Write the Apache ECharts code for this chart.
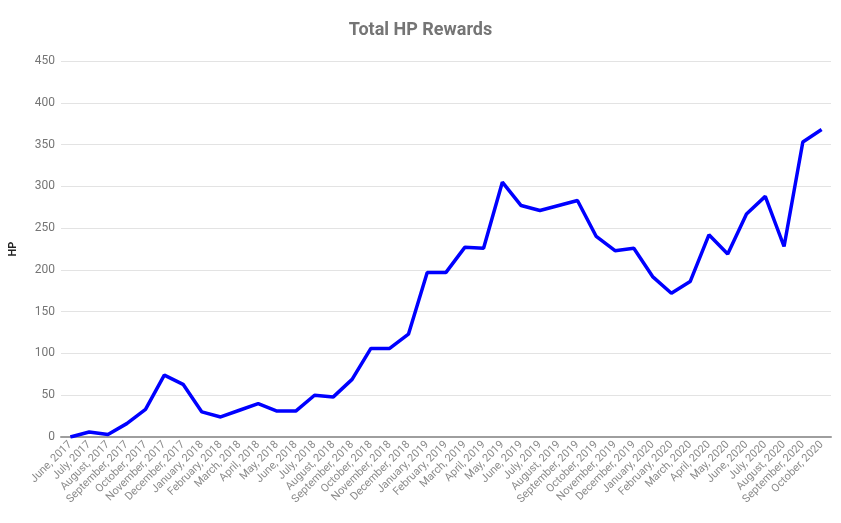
<!DOCTYPE html>
<html>
<head>
<meta charset="utf-8">
<script src="https://cdn.jsdelivr.net/npm/echarts@6/dist/echarts.min.js"></script>
<style>html,body{margin:0;padding:0;background:#fff}#c{width:841px;height:523px}</style>
</head>
<body>
<div id="c"></div>
<script>
const categories = [
"June, 2017","July, 2017","August, 2017","September, 2017","October, 2017","November, 2017","December, 2017",
"January, 2018","February, 2018","March, 2018","April, 2018","May, 2018","June, 2018","July, 2018","August, 2018","September, 2018","October, 2018","November, 2018","December, 2018",
"January, 2019","February, 2019","March, 2019","April, 2019","May, 2019","June, 2019","July, 2019","August, 2019","September, 2019","October, 2019","November, 2019","December, 2019",
"January, 2020","February, 2020","March, 2020","April, 2020","May, 2020","June, 2020","July, 2020","August, 2020","September, 2020","October, 2020"
];
const hpValues = [0,6,3,16,33,74,63,30,24,32,40,31,31,50,48,69,106,106,123,197,197,227,226,305,277,271,277,283,240,223,226,192,172,186,242,219,267,288,228,353,368];
const yTicks = {min:0, max:450, interval:50};

const chart = echarts.init(document.getElementById('c'), null, {renderer:'canvas'});
chart.setOption({
  animation:false,
  title:{text:'Total HP Rewards', left:'center', top:16,
    textStyle:{fontFamily:'Roboto', fontSize:18, fontWeight:'bold', color:'#757575'}},
  grid:{left:61, right:10, top:61, bottom:86, containLabel:false},
  xAxis:{type:'category', data:categories, boundaryGap:true,
    axisLine:{lineStyle:{color:'#9e9e9e', width:2}},
    axisTick:{show:false},
    axisLabel:{rotate:45, interval:0, fontFamily:'Roboto', fontSize:11, color:'#8a8a8a', margin:6}},
  yAxis:{type:'value', min:yTicks.min, max:yTicks.max, interval:yTicks.interval,
    name:'HP', nameLocation:'middle', nameGap:42, nameRotate:90,
    nameTextStyle:{fontFamily:'Roboto', fontSize:11, fontWeight:'bold', color:'#222'},
    axisLine:{show:false}, axisTick:{show:false},
    axisLabel:{fontFamily:'Roboto', fontSize:12, color:'#757575', margin:6},
    splitLine:{lineStyle:{color:'#e3e3e3', width:1}}},
  series:[{type:'line', data:hpValues, symbol:'none', lineStyle:{color:'#0000ff', width:3.5}, itemStyle:{color:'#0000ff'}}]
});
</script>
</body>
</html>
